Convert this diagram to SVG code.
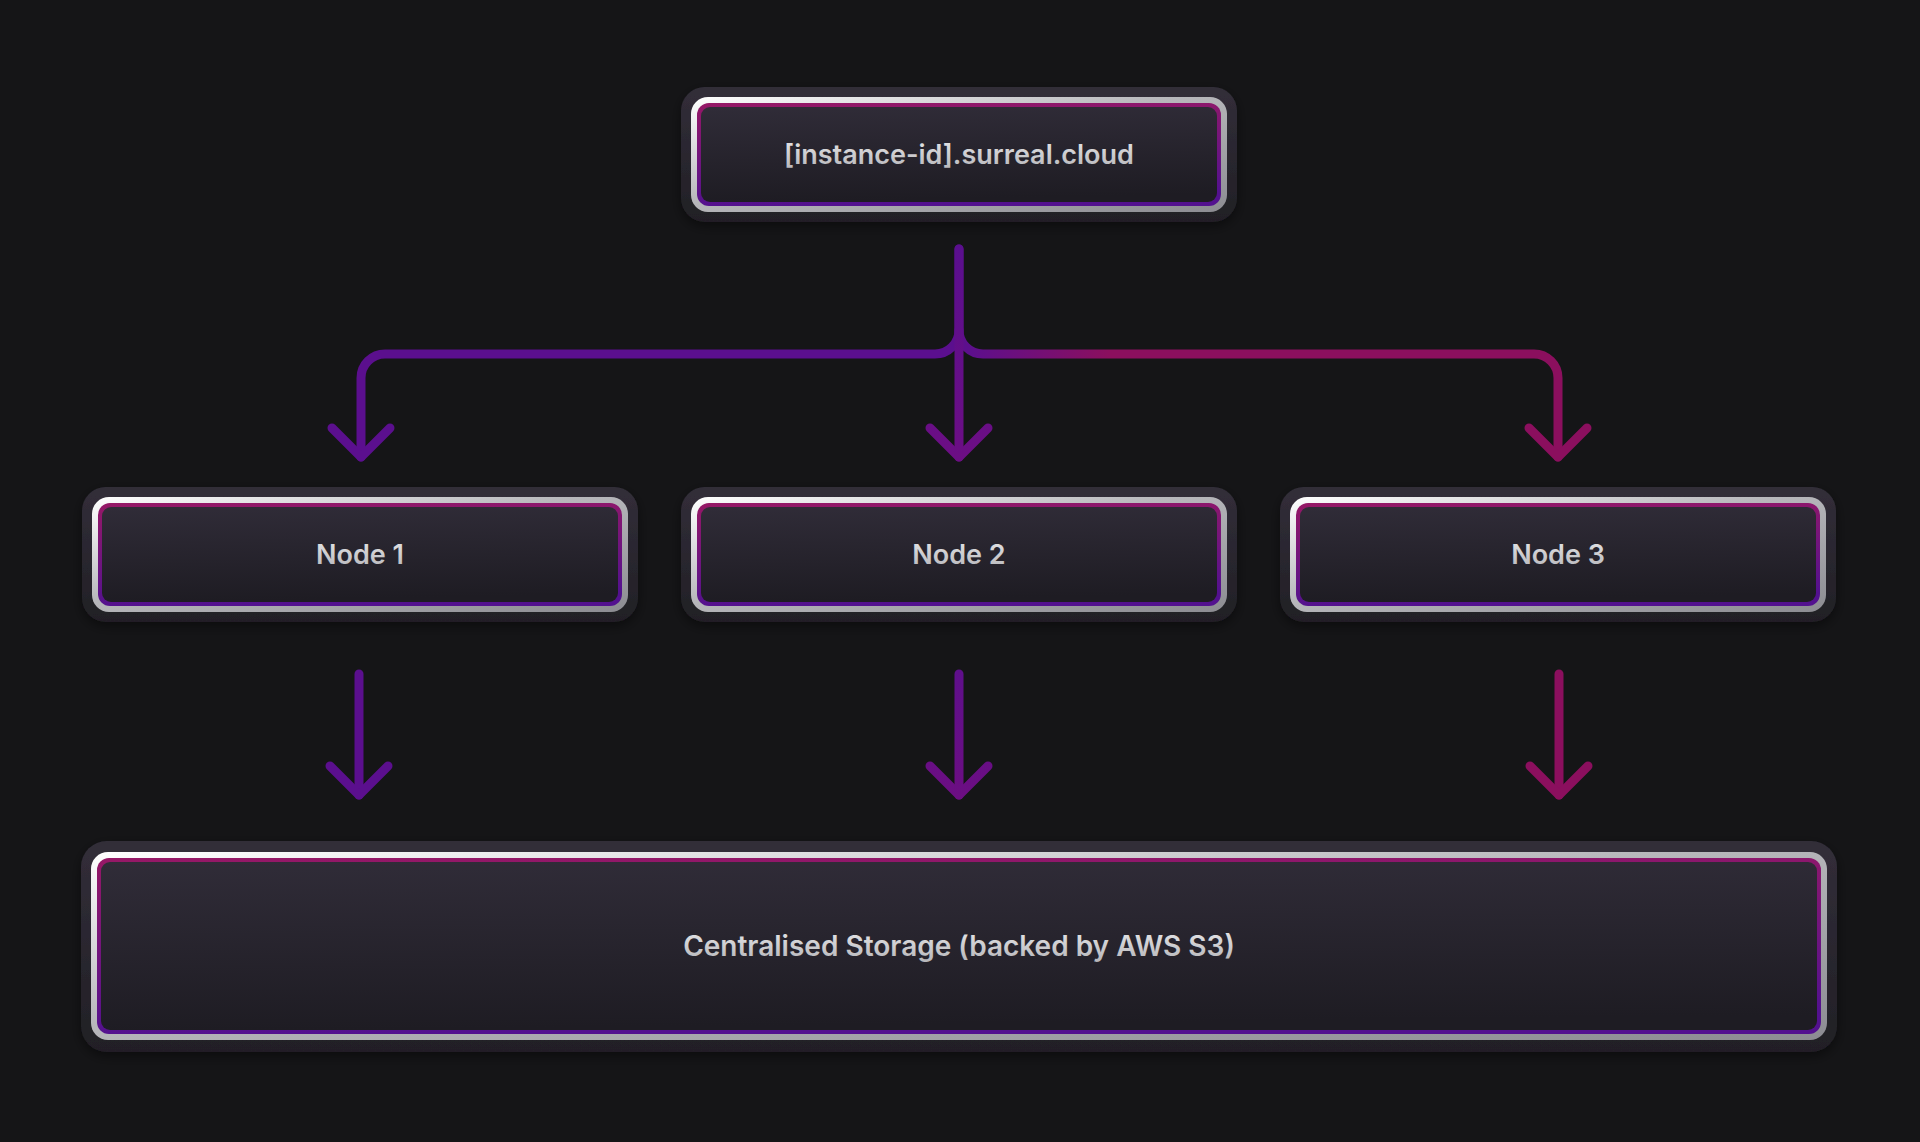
<svg xmlns="http://www.w3.org/2000/svg" width="1920" height="1142" viewBox="0 0 1920 1142">
  <defs>
    <linearGradient id="gFrame" x1="0" y1="0" x2="0" y2="1">
      <stop offset="0" stop-color="#322e39"/>
      <stop offset="1" stop-color="#211f25"/>
    </linearGradient>
    <linearGradient id="gSilver" x1="0" y1="0" x2="1" y2="1">
      <stop offset="0" stop-color="#ffffff"/>
      <stop offset="0.45" stop-color="#b8b8bc"/>
      <stop offset="1" stop-color="#8c8c92"/>
    </linearGradient>
    <linearGradient id="gNeon" x1="0" y1="0" x2="0.15" y2="1">
      <stop offset="0" stop-color="#961866"/>
      <stop offset="0.5" stop-color="#74157c"/>
      <stop offset="1" stop-color="#53118f"/>
    </linearGradient>
    <linearGradient id="gFill" x1="0" y1="0" x2="0.1" y2="1">
      <stop offset="0" stop-color="#302c38"/>
      <stop offset="1" stop-color="#1e1c23"/>
    </linearGradient>
    <linearGradient id="gText" x1="0" y1="0" x2="0" y2="1">
      <stop offset="0" stop-color="#e6e6e8"/>
      <stop offset="1" stop-color="#b4b4b8"/>
    </linearGradient>
    <linearGradient id="gRight" gradientUnits="userSpaceOnUse" x1="970" y1="0" x2="1110" y2="0">
      <stop offset="0" stop-color="#5d0f8d"/>
      <stop offset="1" stop-color="#8b0f5e"/>
    </linearGradient>
    <linearGradient id="gMidTop" gradientUnits="userSpaceOnUse" x1="0" y1="245" x2="0" y2="460">
      <stop offset="0" stop-color="#5a0f8e"/>
      <stop offset="1" stop-color="#6c0e84"/>
    </linearGradient>
    <linearGradient id="gMidBot" gradientUnits="userSpaceOnUse" x1="0" y1="670" x2="0" y2="800">
      <stop offset="0" stop-color="#5f0f8b"/>
      <stop offset="1" stop-color="#6c0e82"/>
    </linearGradient>
    <filter id="shadow" x="-10%" y="-30%" width="120%" height="160%">
      <feDropShadow dx="0" dy="4" stdDeviation="6" flood-color="#000000" flood-opacity="0.45"/>
    </filter>
  </defs>
  <style>
    .frame { fill: url(#gFrame); filter: url(#shadow); }
    .silver { fill: url(#gSilver); }
    .neon { fill: url(#gNeon); }
    .inner { fill: url(#gFill); }
    .label { font-family: Inter, "Noto Sans", "Liberation Sans", sans-serif; font-weight: 600; font-size: 27px; fill: url(#gText); text-anchor: middle; }
    .big { font-size: 28px; }
    .conn { fill: none; stroke-width: 9; stroke-linecap: round; stroke-linejoin: round; }
    .purple { stroke: #5b0f8e; }
    .magenta { stroke: #8b0f5e; }
  </style>
  <rect x="0" y="0" width="1920" height="1142" fill="#151517"/>

  <g id="connectors">
    <path class="conn purple" d="M959 249 V330 A24 24 0 0 1 935 354 H385 A24 24 0 0 0 361 378 V457"/>
    <path class="conn" stroke="url(#gRight)" d="M959 330 A24 24 0 0 0 983 354 H1534 A24 24 0 0 1 1558 378 V457"/>
    <path class="conn" stroke="url(#gMidTop)" d="M959 249 V457"/>
    <polyline class="conn purple" points="332,428 361,457 390,428"/>
    <polyline class="conn" stroke="url(#gMidTop)" points="930,428 959,457 988,428"/>
    <polyline class="conn magenta" points="1529,428 1558,457 1587,428"/>

    <path class="conn purple" d="M359 674 V795"/>
    <polyline class="conn purple" points="330,766 359,795 388,766"/>
    <path class="conn" stroke="url(#gMidBot)" d="M959 674 V795"/>
    <polyline class="conn" stroke="url(#gMidBot)" points="930,766 959,795 988,766"/>
    <path class="conn magenta" d="M1559 674 V795"/>
    <polyline class="conn magenta" points="1530,766 1559,795 1588,766"/>
  </g>

  <g id="instance">
    <rect class="frame" x="681" y="87" width="556" height="135" rx="24"/>
    <rect class="silver" x="691" y="97" width="536" height="115" rx="17"/>
    <rect class="neon" x="697" y="103" width="524" height="103" rx="12"/>
    <rect class="inner" x="701" y="107" width="516" height="95" rx="9"/>
    <text class="label" x="959" y="164">[instance-id].surreal.cloud</text>
  </g>

  <g id="node1">
    <rect class="frame" x="82" y="487" width="556" height="135" rx="24"/>
    <rect class="silver" x="92" y="497" width="536" height="115" rx="17"/>
    <rect class="neon" x="98" y="503" width="524" height="103" rx="12"/>
    <rect class="inner" x="102" y="507" width="516" height="95" rx="9"/>
    <text class="label" x="360" y="564">Node 1</text>
  </g>

  <g id="node2">
    <rect class="frame" x="681" y="487" width="556" height="135" rx="24"/>
    <rect class="silver" x="691" y="497" width="536" height="115" rx="17"/>
    <rect class="neon" x="697" y="503" width="524" height="103" rx="12"/>
    <rect class="inner" x="701" y="507" width="516" height="95" rx="9"/>
    <text class="label" x="959" y="564">Node 2</text>
  </g>

  <g id="node3">
    <rect class="frame" x="1280" y="487" width="556" height="135" rx="24"/>
    <rect class="silver" x="1290" y="497" width="536" height="115" rx="17"/>
    <rect class="neon" x="1296" y="503" width="524" height="103" rx="12"/>
    <rect class="inner" x="1300" y="507" width="516" height="95" rx="9"/>
    <text class="label" x="1558" y="564">Node 3</text>
  </g>

  <g id="storage">
    <rect class="frame" x="81" y="841" width="1756" height="211" rx="26"/>
    <rect class="silver" x="91" y="852" width="1736" height="188" rx="17"/>
    <rect class="neon" x="97" y="858" width="1724" height="176" rx="12"/>
    <rect class="inner" x="101" y="862" width="1716" height="168" rx="9"/>
    <text class="label big" x="959" y="956">Centralised Storage (backed by AWS S3)</text>
  </g>
</svg>
